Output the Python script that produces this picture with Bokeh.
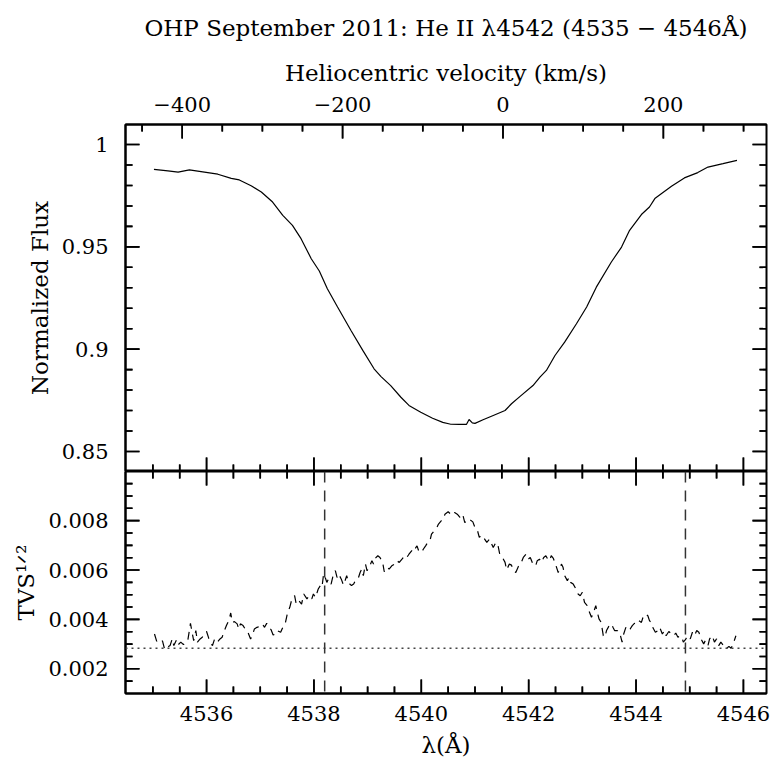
import math

import numpy as np
from bokeh.embed import file_html
from bokeh.layouts import column
from bokeh.models import (BoxAnnotation, CustomJSTickFormatter, LinearAxis, Range1d,
                          SingleIntervalTicker, Span)
from bokeh.plotting import figure
from bokeh.resources import INLINE

# ---------------------------------------------------------------- data
flux_wave = [4535.02, 4535.28, 4535.47, 4535.68, 4535.96, 4536.21, 4536.46, 4536.61,
             4536.83, 4537.02, 4537.23, 4537.42, 4537.60, 4537.76, 4537.95, 4538.10,
             4538.25, 4538.44, 4538.69, 4538.91, 4539.12, 4539.25, 4539.43, 4539.62,
             4539.77, 4539.99, 4540.21, 4540.40, 4540.55, 4540.70, 4540.84, 4540.89,
             4540.95, 4541.00, 4541.15, 4541.34, 4541.56, 4541.68, 4541.84, 4542.08,
             4542.21, 4542.33, 4542.49, 4542.67, 4542.89, 4543.08, 4543.26, 4543.54,
             4543.73, 4543.88, 4544.10, 4544.25, 4544.35, 4544.47, 4544.66, 4544.90,
             4545.15, 4545.34, 4545.62, 4545.88]
flux = [0.9879, 0.9871, 0.9865, 0.9876, 0.9865, 0.9855, 0.9835, 0.9827,
        0.9799, 0.9768, 0.9719, 0.9654, 0.9605, 0.9540, 0.9442, 0.9382,
        0.9295, 0.9206, 0.9091, 0.8994, 0.8904, 0.8866, 0.8822, 0.8765,
        0.8725, 0.8692, 0.8662, 0.8642, 0.8633, 0.8632, 0.8632, 0.8656,
        0.8640, 0.8637, 0.8655, 0.8676, 0.8700, 0.8733, 0.8769, 0.8822,
        0.8863, 0.8896, 0.8969, 0.9034, 0.9124, 0.9206, 0.9303, 0.9426,
        0.9499, 0.9581, 0.9658, 0.9695, 0.9736, 0.9760, 0.9796, 0.9837,
        0.9863, 0.9890, 0.9907, 0.9923]

tvs_wave = [4535.03, 4535.07, 4535.13, 4535.18, 4535.22, 4535.27, 4535.32, 4535.36,
            4535.39, 4535.44, 4535.47, 4535.52, 4535.57, 4535.61, 4535.65, 4535.70,
            4535.73, 4535.76, 4535.80, 4535.83, 4535.88, 4535.92, 4535.95, 4536.00,
            4536.04, 4536.07, 4536.11, 4536.15, 4536.20, 4536.25, 4536.29, 4536.32,
            4536.37, 4536.42, 4536.45, 4536.48, 4536.52, 4536.57, 4536.60, 4536.63,
            4536.68, 4536.72, 4536.77, 4536.82, 4536.85, 4536.89, 4536.94, 4536.99,
            4537.04, 4537.08, 4537.12, 4537.16, 4537.20, 4537.24, 4537.28, 4537.31,
            4537.38, 4537.42, 4537.47, 4537.51, 4537.55, 4537.59, 4537.64, 4537.67,
            4537.72, 4537.77, 4537.81, 4537.87, 4537.91, 4537.96, 4537.99, 4538.03,
            4538.08, 4538.12, 4538.15, 4538.18, 4538.21, 4538.24, 4538.27, 4538.32,
            4538.37, 4538.40, 4538.43, 4538.46, 4538.51, 4538.55, 4538.58, 4538.61,
            4538.65, 4538.70, 4538.74, 4538.77, 4538.82, 4538.86, 4538.89, 4538.92,
            4538.96, 4538.99, 4539.03, 4539.08, 4539.11, 4539.14, 4539.19, 4539.23,
            4539.28, 4539.31, 4539.36, 4539.40, 4539.45, 4539.50, 4539.54, 4539.59,
            4539.64, 4539.69, 4539.73, 4539.77, 4539.82, 4539.85, 4539.88, 4539.92,
            4539.95, 4540.00, 4540.04, 4540.08, 4540.12, 4540.16, 4540.19, 4540.24,
            4540.29, 4540.32, 4540.37, 4540.41, 4540.44, 4540.50, 4540.57, 4540.62,
            4540.67, 4540.72, 4540.77, 4540.81, 4540.86, 4540.91, 4540.96, 4541.00,
            4541.04, 4541.08, 4541.12, 4541.17, 4541.22, 4541.27, 4541.31, 4541.34,
            4541.39, 4541.43, 4541.46, 4541.51, 4541.56, 4541.59, 4541.64, 4541.68,
            4541.71, 4541.76, 4541.81, 4541.85, 4541.90, 4541.95, 4541.99, 4542.03,
            4542.08, 4542.13, 4542.16, 4542.20, 4542.24, 4542.28, 4542.32, 4542.36,
            4542.39, 4542.42, 4542.46, 4542.51, 4542.55, 4542.58, 4542.61, 4542.64,
            4542.67, 4542.72, 4542.75, 4542.78, 4542.83, 4542.88, 4542.92, 4542.96,
            4543.00, 4543.04, 4543.09, 4543.12, 4543.17, 4543.20, 4543.25, 4543.27,
            4543.31, 4543.35, 4543.39, 4543.42, 4543.45, 4543.50, 4543.54, 4543.57,
            4543.60, 4543.66, 4543.71, 4543.74, 4543.77, 4543.81, 4543.85, 4543.89,
            4543.93, 4543.97, 4544.02, 4544.05, 4544.10, 4544.13, 4544.18, 4544.22,
            4544.25, 4544.28, 4544.31, 4544.36, 4544.41, 4544.44, 4544.49, 4544.53,
            4544.56, 4544.61, 4544.66, 4544.70, 4544.74, 4544.78, 4544.82, 4544.86,
            4544.88, 4544.92, 4544.96, 4545.01, 4545.05, 4545.09, 4545.13, 4545.17,
            4545.21, 4545.26, 4545.29, 4545.34, 4545.37, 4545.42, 4545.46, 4545.50,
            4545.54, 4545.58, 4545.63, 4545.68, 4545.73, 4545.77, 4545.81, 4545.86]
tvs = [0.00341, 0.00312, 0.00321, 0.00312, 0.00278, 0.00287, 0.00294, 0.00321,
       0.00294, 0.00317, 0.00297, 0.00308, 0.00298, 0.00310, 0.00314, 0.00384,
       0.00348, 0.00314, 0.00355, 0.00308, 0.00321, 0.00328, 0.00341, 0.00351,
       0.00324, 0.00308, 0.00294, 0.00321, 0.00308, 0.00321, 0.00328, 0.00348,
       0.00375, 0.00399, 0.00426, 0.00388, 0.00391, 0.00382, 0.00361, 0.00382,
       0.00375, 0.00361, 0.00348, 0.00321, 0.00332, 0.00361, 0.00368, 0.00372,
       0.00382, 0.00368, 0.00384, 0.00368, 0.00359, 0.00337, 0.00341, 0.00355,
       0.00348, 0.00368, 0.00388, 0.00429, 0.00449, 0.00483, 0.00496, 0.00462,
       0.00476, 0.00462, 0.00503, 0.00483, 0.00496, 0.00483, 0.00503, 0.00489,
       0.00523, 0.00537, 0.00530, 0.00584, 0.00570, 0.00550, 0.00563, 0.00543,
       0.00590, 0.00597, 0.00570, 0.00584, 0.00563, 0.00539, 0.00557, 0.00577,
       0.00547, 0.00537, 0.00543, 0.00557, 0.00563, 0.00590, 0.00604, 0.00577,
       0.00624, 0.00597, 0.00611, 0.00638, 0.00624, 0.00647, 0.00658, 0.00651,
       0.00631, 0.00593, 0.00611, 0.00604, 0.00617, 0.00624, 0.00638, 0.00631,
       0.00644, 0.00658, 0.00651, 0.00664, 0.00678, 0.00691, 0.00685, 0.00698,
       0.00678, 0.00671, 0.00685, 0.00698, 0.00712, 0.00718, 0.00745, 0.00759,
       0.00772, 0.00786, 0.00799, 0.00806, 0.00826, 0.00836, 0.00822, 0.00833,
       0.00826, 0.00813, 0.00826, 0.00792, 0.00806, 0.00803, 0.00795, 0.00772,
       0.00765, 0.00732, 0.00741, 0.00728, 0.00712, 0.00725, 0.00705, 0.00691,
       0.00712, 0.00698, 0.00665, 0.00651, 0.00631, 0.00601, 0.00624, 0.00620,
       0.00601, 0.00590, 0.00615, 0.00624, 0.00651, 0.00664, 0.00644, 0.00651,
       0.00624, 0.00617, 0.00638, 0.00644, 0.00631, 0.00651, 0.00658, 0.00642,
       0.00638, 0.00658, 0.00647, 0.00617, 0.00590, 0.00604, 0.00624, 0.00611,
       0.00577, 0.00557, 0.00570, 0.00550, 0.00543, 0.00523, 0.00503, 0.00496,
       0.00510, 0.00469, 0.00456, 0.00436, 0.00409, 0.00422, 0.00456, 0.00436,
       0.00402, 0.00388, 0.00334, 0.00328, 0.00355, 0.00375, 0.00382, 0.00368,
       0.00355, 0.00355, 0.00334, 0.00308, 0.00341, 0.00368, 0.00355, 0.00361,
       0.00375, 0.00384, 0.00382, 0.00395, 0.00388, 0.00409, 0.00422, 0.00415,
       0.00395, 0.00388, 0.00368, 0.00348, 0.00355, 0.00368, 0.00341, 0.00355,
       0.00334, 0.00351, 0.00341, 0.00334, 0.00345, 0.00328, 0.00334, 0.00324,
       0.00308, 0.00318, 0.00334, 0.00321, 0.00348, 0.00334, 0.00355, 0.00348,
       0.00321, 0.00301, 0.00314, 0.00294, 0.00321, 0.00334, 0.00308, 0.00321,
       0.00294, 0.00308, 0.00294, 0.00281, 0.00291, 0.00283, 0.00301, 0.00334]

tvs_threshold = 0.00283          # 1% significance level
band_edges = [4538.20, 4544.92]  # limits of the variable region

# axis extents
wave_lo, wave_hi = 4534.49, 4546.43
vel_lo, vel_hi = -470.7, 328.6
flux_lo, flux_hi = 0.8402, 1.0098
tvs_lo, tvs_hi = 0.001, 0.00999

# tick spacing (major, minor)
wave_step = (2.0, 0.5)
vel_step = (200.0, 50.0)
flux_step = (0.05, 0.01)
tvs_step = (0.002, 0.0005)

TITLE = "OHP September 2011: He II \u03bb4542 (4535 \u2212 4546\u00c5)"

# ---------------------------------------------------------------- layout / styling
WIDTH = 771
LEFT, RIGHT = 125, 5
TOP_ABOVE, TOP_FRAME = 124, 347
BOT_FRAME, BOT_BELOW = 222, 69
FRAME_W = WIDTH - LEFT - RIGHT

SERIF = "DejaVu Serif"
NUM_SIZE = "21px"
TXT_SIZE = "23px"
MAJOR_LEN, MINOR_LEN = 14, 7     # tick lengths in pixels
TICK_W = 1.6                     # tick thickness in pixels

num_fmt = CustomJSTickFormatter(code="""
    const v = parseFloat(tick.toFixed(6));
    const s = String(Math.abs(v));
    return v < 0 ? '\\u2212' + s : s;
""")


def tick_values(lo, hi, step):
    """Major and minor tick positions strictly inside (lo, hi)."""
    major, minor = step
    pad = (hi - lo) * 0.004
    vals = np.arange(math.ceil(lo / minor) * minor, hi, minor)
    vals = vals[(vals > lo + pad) & (vals < hi - pad)]
    is_major = np.isclose(np.round(vals / major) * major, vals, atol=minor * 1e-3)
    return vals[is_major], vals[~is_major]


def label_axis(p, place, interval, label=None, **kw):
    ax = LinearAxis(ticker=SingleIntervalTicker(interval=interval), formatter=num_fmt, **kw)
    ax.axis_label = label
    ax.axis_line_width = 2
    ax.axis_line_color = "black"
    ax.major_tick_in = 0
    ax.major_tick_out = 0
    ax.minor_tick_in = 0
    ax.minor_tick_out = 0
    ax.major_label_text_font = SERIF
    ax.major_label_text_font_size = NUM_SIZE
    ax.major_label_text_color = "black"
    ax.axis_label_text_font = SERIF
    ax.axis_label_text_font_size = TXT_SIZE
    ax.axis_label_text_font_style = "normal"
    ax.axis_label_text_color = "black"
    p.add_layout(ax, place)
    return ax


def inner_ticks(p, side, lo, hi, step, edge, len_per_px, thick_per_px, to_data=None):
    """Tick marks pointing into the frame, as thin filled boxes.

    len_per_px: data units per pixel across the edge (tick length direction);
    thick_per_px: data units per pixel along the edge (tick thickness direction).
    """
    sign = {"left": 1, "right": -1, "below": 1, "above": -1}[side]
    half = 0.5 * TICK_W * thick_per_px
    for vals, length in zip(tick_values(lo, hi, step), (MAJOR_LEN, MINOR_LEN)):
        if to_data is not None:
            vals = to_data(vals)
        inner = edge + sign * length * len_per_px
        a, b = min(edge, inner), max(edge, inner)
        for v in vals:
            v = float(v)
            if side in ("left", "right"):
                box = dict(left=a, right=b, bottom=v - half, top=v + half)
                xs, ys = [edge, inner], [v, v]
            else:
                box = dict(left=v - half, right=v + half, bottom=a, top=b)
                xs, ys = [v, v], [edge, inner]
            p.add_layout(BoxAnnotation(fill_color="black", fill_alpha=1.0,
                                       line_color=None, **box))
            p.line(xs, ys, line_color="black", line_width=TICK_W)


def vel_to_wave(v):
    return wave_lo + (np.asarray(v) - vel_lo) / (vel_hi - vel_lo) * (wave_hi - wave_lo)


def new_panel(height, y_range, border_top, border_bottom, **kw):
    p = figure(width=WIDTH, height=height, x_range=shared_x, y_range=y_range,
               output_backend="svg", toolbar_location=None,
               x_axis_location=None, y_axis_location=None,
               min_border_left=LEFT, min_border_right=RIGHT,
               min_border_top=border_top, min_border_bottom=border_bottom, **kw)
    p.xgrid.grid_line_color = None
    p.ygrid.grid_line_color = None
    p.outline_line_color = "black"
    p.outline_line_width = 2
    p.background_fill_color = "white"
    p.border_fill_color = "white"
    return p


shared_x = Range1d(wave_lo, wave_hi)
wave_per_px = (wave_hi - wave_lo) / FRAME_W

# ---------------------------------------------------------------- top panel: line profile
top = new_panel(TOP_ABOVE + TOP_FRAME, Range1d(flux_lo, flux_hi), TOP_ABOVE, 0, title=TITLE)
top.title.align = "center"
top.title.vertical_align = "top"
top.title.text_font = SERIF
top.title.text_font_size = TXT_SIZE
top.title.text_font_style = "normal"
top.title.text_color = "black"
top.title.standoff = 27

top.extra_x_ranges = {"vel": Range1d(vel_lo, vel_hi)}

flux_axis = label_axis(top, "left", flux_step[0], "Normalized Flux")
flux_axis.major_label_standoff = 17
flux_axis.axis_label_standoff = 6
vel_axis = label_axis(top, "above", vel_step[0], "Heliocentric velocity (km/s)",
                      x_range_name="vel")
vel_axis.major_label_standoff = 13
vel_axis.axis_label_standoff = 8

flux_per_px = (flux_hi - flux_lo) / TOP_FRAME
inner_ticks(top, "left", flux_lo, flux_hi, flux_step, wave_lo, wave_per_px, flux_per_px)
inner_ticks(top, "right", flux_lo, flux_hi, flux_step, wave_hi, wave_per_px, flux_per_px)
inner_ticks(top, "below", wave_lo, wave_hi, wave_step, flux_lo, flux_per_px, wave_per_px)
inner_ticks(top, "above", vel_lo, vel_hi, vel_step, flux_hi, flux_per_px, wave_per_px,
            to_data=vel_to_wave)

top.line(flux_wave, flux, line_color="black", line_width=1.2)

# ---------------------------------------------------------------- bottom panel: TVS
bot = new_panel(BOT_FRAME + BOT_BELOW, Range1d(tvs_lo, tvs_hi), 0, BOT_BELOW)

tvs_axis = label_axis(bot, "left", tvs_step[0], "TVS\u00b9\u141f\u00b2")
tvs_axis.major_label_standoff = 17
tvs_axis.axis_label_standoff = 6
wave_axis = label_axis(bot, "below", wave_step[0], "\u03bb(\u00c5)")
wave_axis.major_label_standoff = 12
wave_axis.axis_label_standoff = 8

tvs_per_px = (tvs_hi - tvs_lo) / BOT_FRAME
inner_ticks(bot, "left", tvs_lo, tvs_hi, tvs_step, wave_lo, wave_per_px, tvs_per_px)
inner_ticks(bot, "right", tvs_lo, tvs_hi, tvs_step, wave_hi, wave_per_px, tvs_per_px)
inner_ticks(bot, "below", wave_lo, wave_hi, wave_step, tvs_lo, tvs_per_px, wave_per_px)
inner_ticks(bot, "above", wave_lo, wave_hi, wave_step, tvs_hi, tvs_per_px, wave_per_px)

bot.line(tvs_wave, tvs, line_color="black", line_width=1.2, line_dash="8 6")

bot.add_layout(Span(location=tvs_threshold, dimension="width", line_color="#444444",
                    line_width=1.5, line_dash="2 4"))
for band_edge in band_edges:
    bot.add_layout(Span(location=band_edge, dimension="height", line_color="#333333",
                        line_width=1.5, line_dash="11 8"))

layout = column(top, bot, spacing=0)

with open("out.html", "w") as fh:
    fh.write(file_html(layout, INLINE))
